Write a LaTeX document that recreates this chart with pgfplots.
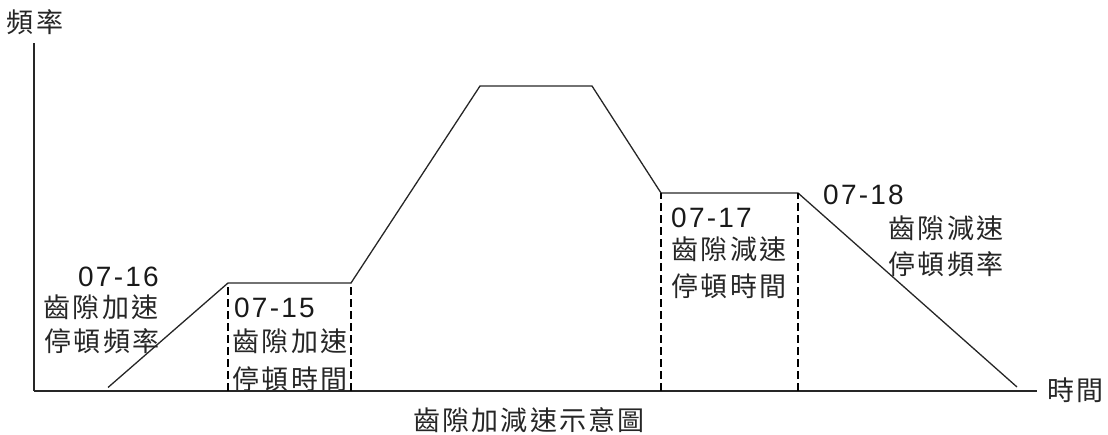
\documentclass[border=0pt]{standalone}
\usepackage{pgfplots}
\pgfplotsset{compat=1.18}
\usepackage{fontspec}
\setmainfont{Liberation Sans}
\newfontfamily\cjk[LetterSpace=8]{Noto Sans CJK TC}
\newfontfamily\digits[LetterSpace=8]{Liberation Sans}

\tikzset{
    zh/.style={font=\cjk\fontsize{27}{34}\selectfont, inner sep=0pt, text=black!85},
    num/.style={font=\digits\fontsize{28}{34}\selectfont, inner sep=0pt, text=black!90},
}

\begin{document}
\begin{tikzpicture}
\begin{axis}[
    scale only axis,
    width=1003pt, height=348pt,
    xmin=0, xmax=1003, ymin=0, ymax=348,
    axis lines=left,
    axis line style={-, line width=1.4pt, black!85},
    xtick=\empty, ytick=\empty,
    clip=false,
]
% frequency profile
\addplot[line width=1.3pt, black!85] coordinates {
    (74,3.5) (194,108) (317,108) (446,305) (558,305)
    (627,198) (764,198) (983,4)
};
% dwell time markers
\addplot[line width=1.7pt, dash pattern=on 8pt off 4pt] coordinates {(194,0) (194,108)};
\addplot[line width=1.7pt, dash pattern=on 8pt off 4pt] coordinates {(317,0) (317,108)};
\addplot[line width=1.7pt, dash pattern=on 8pt off 4pt] coordinates {(627,0) (627,198)};
\addplot[line width=1.7pt, dash pattern=on 8pt off 4pt] coordinates {(764,0) (764,198)};

% axis names and caption
\node[zh] at (axis cs:1,369) {頻率};
\node[zh, anchor=west] at (axis cs:1013,1) {時間};
\node[zh] at (axis cs:495,-29) {齒隙加減速示意圖};

% 07-16
\node[num] at (axis cs:84.5,114) {07-16};
\node[zh] at (axis cs:67,84) {齒隙加速};
\node[zh] at (axis cs:68,50) {停頓頻率};
% 07-15
\node[num] at (axis cs:240.5,83.5) {07-15};
\node[zh] at (axis cs:256,50) {齒隙加速};
\node[zh] at (axis cs:256,11.5) {停頓時間};
% 07-17
\node[num] at (axis cs:677.5,173.5) {07-17};
\node[zh] at (axis cs:695,142) {齒隙減速};
\node[zh] at (axis cs:695,105) {停頓時間};
% 07-18
\node[num] at (axis cs:829.5,196) {07-18};
\node[zh] at (axis cs:912,162.5) {齒隙減速};
\node[zh] at (axis cs:912,126.5) {停頓頻率};
\end{axis}
\pgfresetboundingbox
\path (-34pt,-44pt) rectangle (1074pt,391pt);
\end{tikzpicture}
\end{document}
